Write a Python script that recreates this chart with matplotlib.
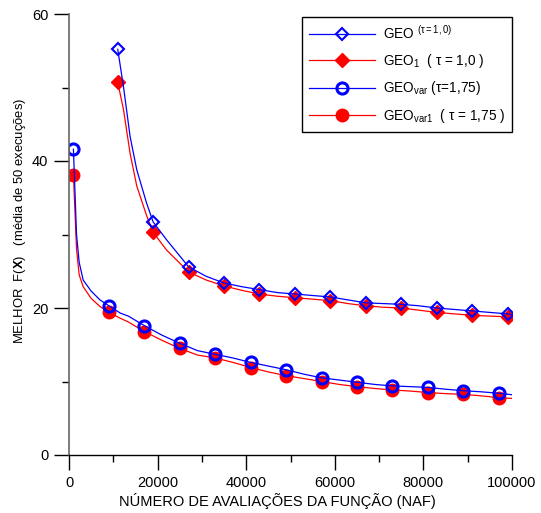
import numpy as np
import matplotlib
matplotlib.use("Agg")
import matplotlib.pyplot as plt
from matplotlib.lines import Line2D
from matplotlib.ticker import MultipleLocator

plt.rcParams['font.family'] = ['Liberation Sans', 'DejaVu Sans']
plt.rcParams['mathtext.fontset'] = 'custom'
plt.rcParams['mathtext.rm'] = 'Liberation Sans'
plt.rcParams['mathtext.it'] = 'Liberation Sans:italic'
plt.rcParams['mathtext.bf'] = 'Liberation Sans:bold'

# upper pair (tau = 1,0)
x_up = [11000, 12300, 13800, 15300, 17500, 19000, 22000, 27000, 31000, 35000,
        39000, 43000, 47000, 51000, 55000, 59000, 63000, 67000, 71000, 75000,
        79000, 83000, 87000, 91000, 95000, 99000, 100000]
geo = [55.2, 50.1, 43.3, 38.8, 34.3, 31.7, 29.3, 25.6, 24.3, 23.4,
       22.9, 22.5, 22.1, 21.9, 21.7, 21.5, 21.1, 20.7, 20.6, 20.5,
       20.3, 20.0, 19.8, 19.6, 19.4, 19.2, 19.1]
geo1 = [50.7, 47.0, 41.0, 36.6, 32.6, 30.3, 27.9, 24.9, 23.8, 23.0,
        22.4, 21.9, 21.6, 21.4, 21.2, 21.0, 20.6, 20.3, 20.1, 20.0,
        19.7, 19.4, 19.2, 19.0, 18.9, 18.8, 18.7]
marks_up = [11000, 19000, 27000, 35000, 43000, 51000, 59000, 67000, 75000,
            83000, 91000, 99000]

# lower pair (tau = 1,75)
x_low = [1000, 1700, 2300, 3200, 5000, 7000, 9000, 11600, 13400, 17000,
         21000, 25000, 29000, 33000, 37000, 41000, 45000, 49000, 53000, 57000,
         61000, 65000, 69000, 73000, 77000, 81000, 85000, 89000, 93000, 97000,
         100000]
geo_var = [41.6, 30.0, 26.2, 23.8, 22.3, 21.1, 20.3, 19.3, 18.9, 17.6,
           16.3, 15.2, 14.2, 13.7, 13.2, 12.6, 12.1, 11.6, 11.0, 10.5,
           10.2, 9.9, 9.6, 9.4, 9.3, 9.2, 8.95, 8.75, 8.6, 8.4,
           8.2]
geo_var1 = [38.1, 28.0, 24.5, 22.9, 21.3, 20.2, 19.4, 18.6, 18.1, 16.8,
            15.6, 14.5, 13.6, 13.2, 12.6, 11.9, 11.3, 10.8, 10.4, 10.0,
            9.6, 9.3, 9.05, 8.85, 8.7, 8.5, 8.35, 8.25, 8.05, 7.8,
            7.7]
marks_low = [1000, 9000, 17000, 25000, 33000, 41000, 49000, 57000, 65000,
             73000, 81000, 89000, 97000]

labels = [r"GEO $^{\mathrm{(τ=1,0)}}$",
          r"GEO$_1$  ( τ = 1,0 )",
          r"GEO$_{\mathrm{var}}$ (τ=1,75)",
          r"GEO$_{\mathrm{var1}}$  ( τ = 1,75 )"]

fig = plt.figure(figsize=(5.41, 5.13), dpi=100)
ax = fig.add_axes([69 / 541, 58 / 513, 443 / 541, 441 / 513])

me_up = list(np.flatnonzero(np.isin(x_up, marks_up)))
me_low = list(np.flatnonzero(np.isin(x_low, marks_low)))

st = {
    'geo': dict(color='blue', marker='D', ms=6, mfc='none', mew=1.5),
    'geo1': dict(color='red', marker='D', ms=7, mfc='red', mew=1),
    'var': dict(color='blue', marker='o', ms=8, mfc='none', mew=2.2),
    'var1': dict(color='red', marker='o', ms=9, mfc='red', mew=1),
}

ax.plot(x_up, geo1, lw=0.9, markevery=me_up, **st['geo1'])
ax.plot(x_up, geo, lw=0.9, markevery=me_up, **st['geo'])
ax.plot(x_low, geo_var1, lw=0.9, markevery=me_low, **st['var1'])
ax.plot(x_low, geo_var, lw=0.9, markevery=me_low, **st['var'])

ax.set_xlim(0, 100000)
ax.set_ylim(0, 60)
ax.xaxis.set_major_locator(MultipleLocator(20000))
ax.xaxis.set_minor_locator(MultipleLocator(10000))
ax.yaxis.set_major_locator(MultipleLocator(20))
ax.yaxis.set_minor_locator(MultipleLocator(10))
ax.tick_params(which='major', direction='out', length=11, width=1, labelsize=10.5, pad=4)
ax.tick_params(which='minor', direction='out', length=5, width=1)

for s in ['top', 'right']:
    ax.spines[s].set_visible(False)
ax.spines['left'].set_color('#666666')
ax.spines['left'].set_linewidth(1.2)
ax.spines['bottom'].set_linewidth(1.0)

fig.text(277 / 541, 1 - 501 / 513, "NÚMERO DE AVALIAÇÕES DA FUNÇÃO (NAF)",
         ha='center', va='center', fontsize=10.5)
fig.text(20 / 541, 1 - 221 / 513,
         r"MELHOR  F($\mathbf{X}$)   (média de 50 execuções)",
         ha='center', va='center', rotation=90, fontsize=9.4)

handles = [Line2D([], [], lw=0.9, **st[k]) for k in ['geo', 'geo1', 'var', 'var1']]
leg = ax.legend(handles, labels, loc='upper right', bbox_to_anchor=(1.0, 0.993),
                borderaxespad=0, fontsize=9.8, handlelength=4.9,
                handletextpad=0.55, labelspacing=0.72, borderpad=0.5,
                fancybox=False, framealpha=1, edgecolor='black')
leg.get_frame().set_linewidth(1.0)

fig.savefig('out.png', dpi=100)
